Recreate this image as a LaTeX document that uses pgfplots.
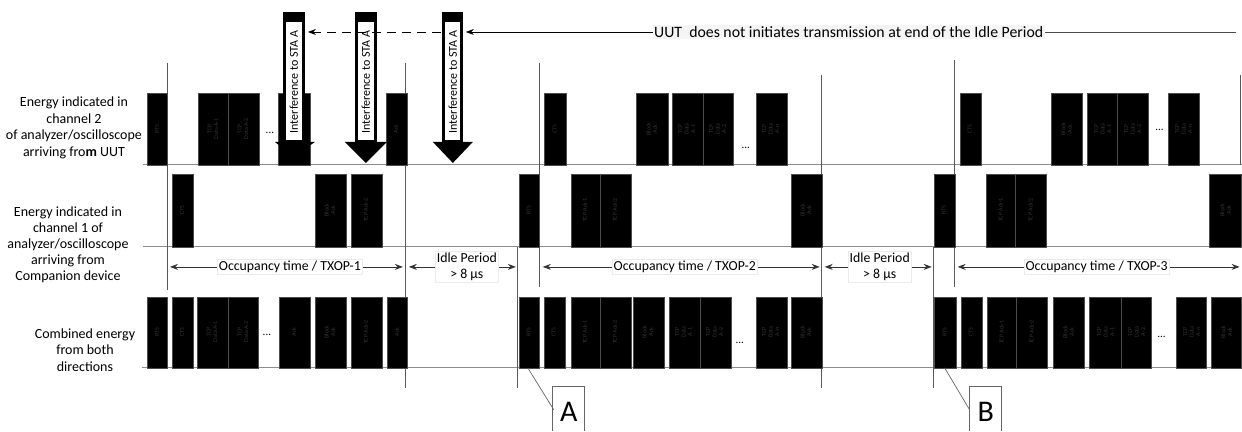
\documentclass[border=0pt]{standalone}
\usepackage{fontspec}
\setmainfont{Carlito}
\usepackage{pgfplots}
\pgfplotsset{compat=1.18}
\usetikzlibrary{arrows.meta}

\tikzset{
  mk/.style={draw=black!65,line width=0.8bp},
  bl/.style={draw=black!45,line width=0.9bp},
  lab/.style={fill=white,draw=black!8,inner sep=1.5bp,font=\fontsize{13.8bp}{16bp}\selectfont,align=center},
}

% filled frame: x0 x1 ytop ybottom
\newcommand{\bx}[4]{\addplot[fill=black,draw=black!70,line width=0.3bp] coordinates {(#1,#3) (#2,#3) (#2,#4) (#1,#4)} -- cycle;}
% frame label inside a bar
\newcommand{\bl}[3]{\node[rotate=90,text=gray!40!black,align=center,font=\fontsize{6bp}{6.5bp}\selectfont] at (axis cs:#1,#2) {#3};}
% "..." marker
\newcommand{\dotsmark}[2]{\node[font=\fontsize{11bp}{11bp}\selectfont] at (axis cs:#1,#2) {...};}
% interference arrow: shaft x0 x1, inner x0 x1, head x0 x1, head mid x, tip y
\newcommand{\intf}[8]{%
  \addplot[fill=black,draw=none] coordinates {(#1,12) (#2,12) (#2,142) (#1,142)} -- cycle;
  \addplot[fill=white,draw=none] coordinates {(#3,22) (#4,22) (#4,140) (#3,140)} -- cycle;
  \addplot[fill=black,draw=none] coordinates {(#5,142) (#6,142) (#7,#8)} -- cycle;
  \node[rotate=90,font=\fontsize{12bp}{12bp}\selectfont] at (axis cs:#7,82) {Interference to STA A};}

\begin{document}
\begin{tikzpicture}
\begin{axis}[
  scale only axis, width=1242bp, height=432bp,
  xmin=0, xmax=1242, ymin=0, ymax=432, y dir=reverse,
  hide axis, clip=false,
]
\addplot[draw=none] coordinates {(0,0) (1242,432)};

% baselines
\addplot[bl] coordinates {(143,165) (1242,165)};
\addplot[bl] coordinates {(143,247) (1242,247)};
\addplot[bl] coordinates {(142,368) (1242,368)};

% time markers
\addplot[mk] coordinates {(167,63) (167,290)};
\addplot[mk] coordinates {(406,63) (406,388)};
\addplot[mk] coordinates {(518,247) (518,388)};
\addplot[mk] coordinates {(540,63) (540,287)};
\addplot[mk] coordinates {(822,75) (822,388)};
\addplot[mk] coordinates {(934,247) (934,388)};
\addplot[mk] coordinates {(955,60) (955,287)};
\addplot[mk] coordinates {(1241,75) (1241,165)};

% row 1: channel 2, from UUT
\bx{147}{167}{93}{165} \bl{157}{129}{RTS}
\bx{198}{228}{93}{165} \bl{213}{129}{TCP\\Data A-1}
\bx{228}{259}{93}{165} \bl{243}{129}{TCP\\Data A-2}
\dotsmark{270}{133}
\bx{278}{310}{93}{165}
\bx{386}{407}{93}{165} \bl{396}{129}{Ack}
\bx{544}{566}{93}{165} \bl{555}{129}{CTS}
\bx{636}{668}{93}{165} \bl{652}{129}{Block\\Ack}
\bx{672}{703}{93}{165} \bl{687}{129}{TCP\\Data\\A-1}
\bx{703}{733}{93}{165} \bl{718}{129}{TCP\\Data\\A-2}
\dotsmark{746}{148}
\bx{756}{787}{93}{165} \bl{771}{129}{TCP\\Data\\A-n}
\bx{960}{981}{93}{165} \bl{970}{129}{CTS}
\bx{1052}{1083}{93}{165} \bl{1067}{129}{Block\\Ack}
\bx{1088}{1118}{93}{165} \bl{1103}{129}{TCP\\Data\\A-1}
\bx{1118}{1149}{93}{165} \bl{1133}{129}{TCP\\Data\\A-2}
\dotsmark{1160}{130}
\bx{1169}{1200}{93}{165} \bl{1184}{129}{TCP\\Data\\A-n}

% row 2: channel 1, from companion
\bx{172}{193}{174}{247} \bl{182}{210}{CTS}
\bx{315}{346}{174}{247} \bl{330}{210}{Block\\Ack}
\bx{351}{382}{174}{247} \bl{366}{210}{TCP Ack-2}
\bx{519}{539}{174}{247} \bl{529}{210}{RTS}
\bx{571}{600}{174}{247} \bl{585}{210}{TCP Ack-1}
\bx{600}{631}{174}{247} \bl{615}{210}{TCP Ack-2}
\bx{791}{822}{174}{247} \bl{806}{210}{Block\\Ack}
\bx{934}{955}{174}{247} \bl{944}{210}{RTS}
\bx{986}{1016}{174}{247} \bl{1001}{210}{TCP Ack-1}
\bx{1016}{1047}{174}{247} \bl{1031}{210}{TCP Ack-2}
\bx{1210}{1242}{174}{247} \bl{1226}{210}{Block\\Ack}

% row 3: combined
\bx{147}{167}{297}{368} \bl{157}{332}{RTS}
\bx{172}{193}{297}{368} \bl{182}{332}{CTS}
\bx{197}{228}{297}{368} \bl{212}{332}{TCP\\Data A-1}
\bx{228}{258}{297}{368} \bl{243}{332}{TCP\\Data A-2}
\dotsmark{267}{335}
\bx{279}{310}{297}{368} \bl{294}{332}{Ack}
\bx{315}{346}{297}{368} \bl{330}{332}{Block\\Ack}
\bx{351}{382}{297}{368} \bl{366}{332}{TCP Ack-2}
\bx{387}{407}{297}{368} \bl{397}{332}{Ack}
\bx{519}{539}{297}{368} \bl{529}{332}{RTS}
\bx{544}{565}{297}{368} \bl{554}{332}{CTS}
\bx{571}{600}{297}{368} \bl{585}{332}{TCP Ack-1}
\bx{600}{631}{297}{368} \bl{615}{332}{TCP Ack-2}
\bx{633}{664}{297}{368} \bl{648}{332}{Block\\Ack}
\bx{669}{700}{297}{368} \bl{684}{332}{TCP\\Data\\A-1}
\bx{700}{731}{297}{368} \bl{715}{332}{TCP\\Data\\A-2}
\dotsmark{740}{343}
\bx{756}{787}{297}{368} \bl{771}{332}{TCP\\Data\\A-n}
\bx{791}{822}{297}{368} \bl{806}{332}{Block\\Ack}
\bx{934}{956}{297}{368} \bl{945}{332}{RTS}
\bx{961}{982}{297}{368} \bl{971}{332}{CTS}
\bx{987}{1017}{297}{368} \bl{1002}{332}{TCP Ack-1}
\bx{1017}{1048}{297}{368} \bl{1032}{332}{TCP Ack-2}
\bx{1054}{1085}{297}{368} \bl{1069}{332}{Block\\Ack}
\bx{1090}{1122}{297}{368} \bl{1106}{332}{TCP\\Data\\A-1}
\bx{1122}{1152}{297}{368} \bl{1137}{332}{TCP\\Data\\A-2}
\dotsmark{1162}{337}
\bx{1177}{1207}{297}{368} \bl{1192}{332}{TCP\\Data\\A-n}
\bx{1212}{1242}{297}{368} \bl{1227}{332}{Block\\Ack}

% interference arrows
\intf{283}{305}{286}{302}{275}{315}{294}{157}
\intf{355}{377}{358}{374}{345}{387}{366}{163}
\intf{442}{463}{445}{460}{433}{473}{453}{163}

% top message
\addplot[black!70,line width=0.8bp] coordinates {(1040,32) (1236,32)};
\addplot[black,line width=0.8bp,-{Stealth[length=8bp,width=6bp]}] coordinates {(658,32) (466,32)};
\addplot[black,line width=0.8bp,dash pattern=on 9bp off 6bp] coordinates {(441,32) (315,32)};
\addplot[black,line width=0.8bp,-{Stealth[length=8bp,width=6bp]}] coordinates {(316,32) (308,32)};
\node[fill=black!4,inner sep=1.5bp,font=\fontsize{15.8bp}{18bp}\selectfont] at (axis cs:849,32) {UUT\ \ does not initiates transmission at end of the Idle Period};

% period arrows
\addplot[black!80,line width=0.8bp,{Stealth[length=8bp,width=6bp]}-{Stealth[length=8bp,width=6bp]}] coordinates {(170,267) (403,267)};
\node[lab] at (axis cs:290,267) {Occupancy time / TXOP-1};
\addplot[black!80,line width=0.8bp,{Stealth[length=8bp,width=6bp]}-{Stealth[length=8bp,width=6bp]}] coordinates {(409,267) (516,267)};
\node[lab] at (axis cs:467,267) {Idle Period\\{>}~8~µs};
\addplot[black!80,line width=0.8bp,{Stealth[length=8bp,width=6bp]}-{Stealth[length=8bp,width=6bp]}] coordinates {(543,267) (820,267)};
\node[lab] at (axis cs:685,267) {Occupancy time / TXOP-2};
\addplot[black!80,line width=0.8bp,{Stealth[length=8bp,width=6bp]}-{Stealth[length=8bp,width=6bp]}] coordinates {(825,267) (932,267)};
\node[lab] at (axis cs:880,267) {Idle Period\\{>}~8~µs};
\addplot[black!80,line width=0.8bp,{Stealth[length=8bp,width=6bp]}-{Stealth[length=8bp,width=6bp]}] coordinates {(958,267) (1240,267)};
\node[lab] at (axis cs:1097,267) {Occupancy time / TXOP-3};

% row titles
\node[align=center,font=\fontsize{14bp}{16.5bp}\selectfont] at (axis cs:74,128) {Energy indicated in\\channel 2\\of analyzer/oscilloscope\\arriving fro\textbf{m} UUT};
\node[align=center,font=\fontsize{14bp}{16bp}\selectfont] at (axis cs:68,245) {Energy indicated in\\channel 1 of\\analyzer/oscilloscope\\arriving from\\Companion device};
\node[align=center,font=\fontsize{14bp}{16.5bp}\selectfont] at (axis cs:85,350) {Combined energy\\from both\\directions};

% callouts A and B
\addplot[black!60,line width=0.7bp] coordinates {(528,368) (554,410)};
\addplot[black!60,line width=0.8bp] coordinates {(553,431) (553,387) (585,387) (585,431)};
\node[font=\fontsize{30bp}{30bp}\selectfont] at (axis cs:569,412) {A};
\addplot[black!60,line width=0.7bp] coordinates {(945,368) (970,410)};
\addplot[black!60,line width=0.8bp] coordinates {(970,431) (970,387) (1002,387) (1002,431)};
\node[font=\fontsize{30bp}{30bp}\selectfont] at (axis cs:986,412) {B};
\end{axis}
\end{tikzpicture}
\end{document}
